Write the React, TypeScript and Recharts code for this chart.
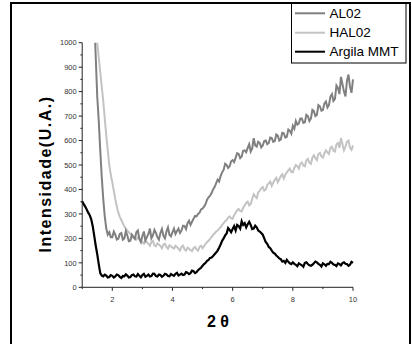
import React from 'react';
import { LineChart, Line, XAxis, YAxis } from 'recharts';

const xs = [
  1.0,1.05,1.1,1.15,1.2,1.25,1.3,1.35,1.4,1.45,1.5,1.55,1.6,1.65,1.7,1.75,1.8,1.85,1.9,1.95,
  2.0,2.05,2.1,2.15,2.2,2.25,2.3,2.35,2.4,2.45,2.5,2.55,2.6,2.65,2.7,2.75,2.8,2.85,2.9,2.95,
  3.0,3.05,3.1,3.15,3.2,3.25,3.3,3.35,3.4,3.45,3.5,3.55,3.6,3.65,3.7,3.75,3.8,3.85,3.9,3.95,
  4.0,4.05,4.1,4.15,4.2,4.25,4.3,4.35,4.4,4.45,4.5,4.55,4.6,4.65,4.7,4.75,4.8,4.85,4.9,4.95,
  5.0,5.05,5.1,5.15,5.2,5.25,5.3,5.35,5.4,5.45,5.5,5.55,5.6,5.65,5.7,5.75,5.8,5.85,5.9,5.95,
  6.0,6.05,6.1,6.15,6.2,6.25,6.3,6.35,6.4,6.45,6.5,6.55,6.6,6.65,6.7,6.75,6.8,6.85,6.9,6.95,
  7.0,7.05,7.1,7.15,7.2,7.25,7.3,7.35,7.4,7.45,7.5,7.55,7.6,7.65,7.7,7.75,7.8,7.85,7.9,7.95,
  8.0,8.05,8.1,8.15,8.2,8.25,8.3,8.35,8.4,8.45,8.5,8.55,8.6,8.65,8.7,8.75,8.8,8.85,8.9,8.95,
  9.0,9.05,9.1,9.15,9.2,9.25,9.3,9.35,9.4,9.45,9.5,9.55,9.6,9.65,9.7,9.75,9.8,9.85,9.9,9.95,
  10.0,
];

const al02 = [
  null,null,null,null,null,null,null,null,1100,940,780,680,560,450,360,290,240,215,225,205,
  205,228,215,195,198,218,222,195,200,230,212,188,190,215,205,198,225,232,198,185,
  210,228,192,205,218,240,200,212,235,222,205,195,222,238,210,200,228,245,215,208,
  225,240,218,230,240,222,232,252,250,238,262,272,255,268,280,292,290,300,305,318,
  322,330,340,358,368,375,385,400,410,425,440,432,455,470,480,505,500,488,495,515,
  520,512,530,548,545,528,535,558,560,552,570,585,555,568,610,580,575,595,590,572,
  580,598,600,585,590,612,610,595,598,625,620,600,605,632,630,612,615,645,640,628,
  660,648,680,665,670,690,690,672,675,705,700,680,690,725,720,700,705,745,740,722,
  725,752,760,735,745,780,790,762,770,825,815,790,860,830,800,780,845,870,820,795,
  850,
];

const hal02 = [
  null,null,null,null,null,null,null,null,1150,1070,1000,940,880,820,760,690,620,560,500,460,
  430,395,360,330,305,288,275,262,250,240,232,225,218,215,210,200,195,205,200,190,
  185,178,192,185,178,170,185,190,172,168,180,175,168,160,175,178,165,158,172,168,
  162,158,170,165,158,150,165,170,155,150,162,158,152,148,160,165,155,150,165,170,
  160,168,178,185,190,198,205,215,220,228,232,240,245,255,262,270,275,285,290,282,
  280,295,305,315,320,312,310,325,335,345,350,335,340,362,380,372,365,388,395,405,
  410,395,400,418,425,432,415,428,440,448,430,442,455,462,445,460,470,478,485,472,
  470,488,500,495,485,505,510,498,495,518,525,510,505,530,540,528,520,545,550,535,
  530,548,560,552,545,570,575,558,555,585,590,570,610,585,560,575,595,600,570,562,
  580,
];

const argila = [
  352,340,330,318,305,295,278,250,210,170,135,95,58,48,45,52,48,40,42,50,
  47,40,44,52,50,42,38,46,45,53,48,40,42,50,52,45,44,54,47,41,
  50,55,43,47,52,44,46,56,55,46,44,52,50,43,47,55,53,46,45,54,
  50,47,55,59,48,52,56,50,52,62,60,54,58,68,66,58,62,70,75,80,
  88,95,100,108,112,120,122,128,135,142,150,162,175,190,200,212,220,242,235,225,
  238,250,232,255,250,240,270,255,262,245,258,268,255,238,240,252,245,232,228,222,
  215,200,185,178,165,160,150,142,138,130,125,118,115,105,108,100,112,104,98,95,
  102,96,92,86,98,94,90,84,100,102,95,90,88,92,98,105,102,96,92,85,
  98,94,88,96,95,104,100,93,92,87,98,95,90,99,102,96,95,88,92,104,
  100,
];

const seriesNames = ['AL02', 'HAL02', 'Argila MMT'];
const seriesColors = ['#808080', '#c3c3c3', '#000000'];

const yTicks = [0,50,100,150,200,250,300,350,400,450,500,550,600,650,700,750,800,850,900,950,1000];
const xTicks = [1,2,3,4,5,6,7,8,9,10];

const data = xs.map((x, i) => ({ x, al02: al02[i], hal02: hal02[i], argila: argila[i] }));

const FONT = '"Liberation Sans", Arial, sans-serif';

const YTick = (props: any) => {
  const { x, y, payload } = props;
  const major = payload.value % 100 === 0;
  return (
    <g>
      <line x1={x - (major ? 3.5 : 1.8)} x2={x} y1={y} y2={y} stroke="#222" strokeWidth={1} />
      {major && (
        <text x={x - 5.5} y={y} dy={2.7} textAnchor="end" fontSize={7.5} fill="#333" fontFamily={FONT}>
          {payload.value}
        </text>
      )}
    </g>
  );
};

const XTick = (props: any) => {
  const { x, y, payload } = props;
  const major = payload.value % 2 === 0;
  return (
    <g>
      <line x1={x} x2={x} y1={y} y2={y + (major ? 3.5 : 1.8)} stroke="#222" strokeWidth={1} />
      {major && (
        <text x={x} y={y + 14.5} textAnchor="middle" fontSize={7.5} fill="#333" fontFamily={FONT}>
          {payload.value}
        </text>
      )}
    </g>
  );
};

export default function App() {
  return (
    <div style={{ position: 'absolute', left: 0, top: 0, width: 412, height: 344, overflow: 'hidden', background: '#fff' }}>
      <div style={{ position: 'absolute', left: 10, top: 2, width: 401, height: 380, border: '2px solid #000', boxSizing: 'border-box' }} />
      <div style={{ position: 'absolute', left: 0, top: 0 }}>
        <LineChart width={412} height={344} data={data} margin={{ top: 42.7, right: 59, bottom: 26.7, left: 42.2 }}>
          <XAxis
            dataKey="x"
            type="number"
            domain={[1, 10]}
            ticks={xTicks}
            interval={0}
            height={30}
            tickSize={0}
            tickMargin={0}
            tickLine={false}
            axisLine={{ stroke: '#222', strokeWidth: 1 }}
            tick={<XTick />}
          />
          <YAxis
            type="number"
            domain={[0, 1000]}
            allowDataOverflow
            ticks={yTicks}
            interval={0}
            width={40}
            tickSize={0}
            tickMargin={0}
            tickLine={false}
            axisLine={{ stroke: '#222', strokeWidth: 1 }}
            tick={<YTick />}
          />
          <Line dataKey="hal02" stroke={seriesColors[1]} strokeWidth={2} dot={false} isAnimationActive={false} connectNulls={false} />
          <Line dataKey="al02" stroke={seriesColors[0]} strokeWidth={2} dot={false} isAnimationActive={false} connectNulls={false} />
          <Line dataKey="argila" stroke={seriesColors[2]} strokeWidth={2.2} dot={false} isAnimationActive={false} />
        </LineChart>
      </div>
      <svg width={412} height={344} style={{ position: 'absolute', left: 0, top: 0, pointerEvents: 'none' }}>
        <text
          x={45}
          y={174}
          transform="rotate(-90 45 174)"
          textAnchor="middle"
          dominantBaseline="central"
          fontFamily={FONT}
          fontWeight="bold"
          fontSize={16}
          letterSpacing={1.5}
          fill="#000"
        >
          Intensidade(U.A.)
        </text>
        <text x={218} y={321} textAnchor="middle" dominantBaseline="central" fontFamily={FONT} fontWeight="bold" fontSize={16} fill="#000">
          2 θ
        </text>
        <rect x={291.5} y={2.5} width={114.5} height={60.5} fill="#fff" stroke="#000" strokeWidth={1} />
        {seriesNames.map((name, i) => {
          const cy = [13.3, 32.7, 51.7][i];
          return (
            <g key={name}>
              <line x1={295} x2={325} y1={cy} y2={cy} stroke={seriesColors[i]} strokeWidth={2} />
              <text x={329.5} y={cy} dominantBaseline="central" fontFamily={FONT} fontSize={13.5} fill="#000">
                {name}
              </text>
            </g>
          );
        })}
        <line x1={10} x2={411} y1={3} y2={3} stroke="#000" strokeWidth={2} />
      </svg>
    </div>
  );
}
